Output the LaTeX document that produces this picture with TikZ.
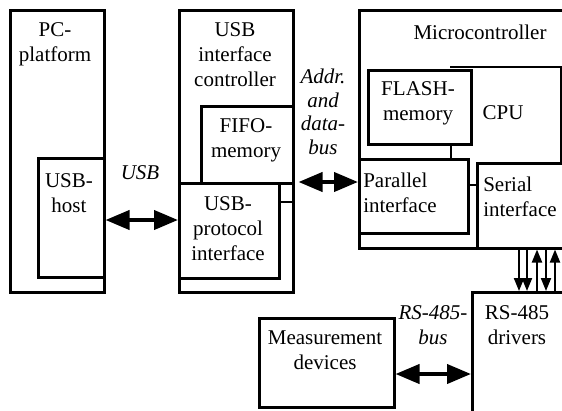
\documentclass[tikz,border=0pt]{standalone}
\usepackage{fontspec}
\setmainfont{Liberation Serif}
\usetikzlibrary{arrows.meta}
\begin{document}
\begin{tikzpicture}[x=1pt,y=-1pt, line width=2.5pt,
  box/.style={draw, fill=white, rectangle, inner sep=0pt, anchor=north west},
  txt/.style={align=center, font=\fontsize{21}{25}\selectfont, inner sep=0pt},
  lbl/.style={txt, font=\fontsize{21}{23.5}\selectfont\itshape},
  bigarrow/.style={line width=4pt, {Triangle[length=24pt,width=19pt]}-{Triangle[length=24pt,width=19pt]}},
  smallarrow/.style={line width=2pt, -{Triangle[length=13pt,width=10pt]}}]
\useasboundingbox (0,0) rectangle (562,410);
\clip (0,0) rectangle (562,410);
% left blocks
\node[box, minimum width=94pt, minimum height=282pt] (PC) at (9,9) {};
\node[box, minimum width=66pt, minimum height=119pt] (USBhost) at (37,157) {};
\node[box, minimum width=114pt, minimum height=282pt] (USBctrl) at (178,9) {};
\node[box, minimum width=92pt, minimum height=77pt] (FIFO) at (200,105) {};
\node[box, minimum width=100pt, minimum height=95pt] (USBproto) at (178,182) {};
% microcontroller
\node[box, minimum width=220pt, minimum height=238pt] (MC) at (358,9) {};
\node[rectangle, inner sep=0pt, anchor=north west, minimum width=109pt, minimum height=95pt] (CPUbox) at (450,67) {};
\draw (CPUbox.north west) -| (CPUbox.south east);
\node[box, minimum width=103pt, minimum height=74pt] (FLASH) at (367,69) {};
\node[box, minimum width=109pt, minimum height=74pt] (Parallel) at (358,158) {};
\node[box, minimum width=100pt, minimum height=85pt] (Serial) at (476,162) {};
% lower blocks
\node[box, minimum width=110pt, minimum height=140pt] (RS) at (471,291) {};
\node[box, minimum width=135pt, minimum height=89pt] (Meas) at (258,317) {};
% texts
\node[txt] (tPC) at (55,44) {PC-\\platform};
\node[txt] (tUSBctrl) at (235,55) {USB\\interface\\controller};
\node[txt] (tFIFO) at (246,140) {FIFO-\\memory};
\node[txt] (tUSBhost) at (69,193) {USB-\\host};
\node[txt] (tUSBproto) at (228,229) {USB-\\protocol\\interface};
\node[lbl] (tUSB) at (140,173) {USB};
\node[txt] (tMC) at (480,32) {Microcontroller};
\node[txt] (tFLASH) at (418,103) {FLASH-\\memory};
\node[txt] (tCPU) at (503,113) {CPU};
\node[txt, align=left, anchor=west] (tPar) at (362,193) {Parallel\\interface};
\node[txt, align=left, anchor=west] (tSer) at (482,197) {Serial\\interface};
\node[lbl] (tBus) at (323,112) {Addr.\\and\\data-\\bus};
\node[lbl, font=\fontsize{21}{25}\selectfont\itshape] (tRSbus) at (433,325) {RS-485-\\bus};
\node[txt] (tMeas) at (325,350) {Measurement\\devices};
\node[txt] (tRS) at (517,325) {RS-485\\drivers};
% connectors
\draw ([yshift=-20pt]USBproto.north east) -- ([yshift=-20pt]USBctrl.north east |- USBproto.north east);
\draw (451,0 |- FLASH.south) -- (451,0 |- Parallel.north);
\draw (Parallel.east |- 0,185) -- (Serial.west |- 0,185);
\draw[bigarrow] (USBhost.east |- 0,220) -- (USBproto.west |- 0,220);
\draw[bigarrow, shorten <=4pt] (USBctrl.east |- 0,182) -- (Parallel.west |- 0,182);
\draw[bigarrow] (Meas.east |- 0,374) -- (RS.west |- 0,374);
\draw[smallarrow] (519,0 |- Serial.south) -- (519,0 |- RS.north);
\draw[smallarrow] (527,0 |- Serial.south) -- (527,0 |- RS.north);
\draw[smallarrow] (537,0 |- RS.north) -- (537,0 |- Serial.south);
\draw[smallarrow] (546,0 |- Serial.south) -- (546,0 |- RS.north);
\draw[smallarrow] (555,0 |- RS.north) -- (555,0 |- Serial.south);
\end{tikzpicture}
\end{document}
